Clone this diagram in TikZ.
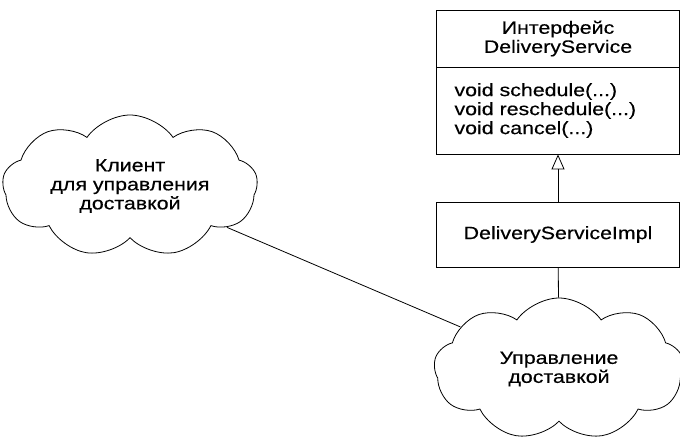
\documentclass[tikz,border=0pt]{standalone}
\usepackage{fontspec}
\setmainfont{Liberation Sans}[FakeStretch=1.2,FakeBold=0.4]
\usetikzlibrary{shapes.symbols,arrows.meta}

\begin{document}
\begin{tikzpicture}[x=1pt,y=-1pt,line width=0.8pt,
  every node/.style={font=\fontsize{17.8}{19}\selectfont},
  umlbox/.style={draw,minimum width=243pt,inner sep=0pt},
  puff/.style={draw,cloud,cloud puffs=9,cloud puff arc=110,cloud ignores aspect,
    inner sep=0pt,align=center}]
  \useasboundingbox (0,0) rectangle (680,441);
  \node[umlbox,minimum height=57pt,align=center] (head) at (558,38.5)
    {Интерфейс\\DeliveryService};
  \node[umlbox,minimum height=87pt,text width=207pt,inner xsep=18pt,align=left] (body) at (558,110.5)
    {void schedule(...)\\void reschedule(...)\\void cancel(...)};
  \node[umlbox,minimum height=65pt] (impl) at (558,234.5) {DeliveryServiceImpl};
  \node[puff,minimum width=255pt,minimum height=142pt] (client) at (130,186)
    {Клиент\\для управления\\доставкой};
  \node[puff,minimum width=250pt,minimum height=142pt] (svc) at (559,369)
    {Управление\\доставкой};
  \draw[-{Triangle[open,length=15pt,width=13pt]}] (impl) -- (body);
  \draw (impl) -- (svc);
  \draw (client) -- (svc);
\end{tikzpicture}
\end{document}
